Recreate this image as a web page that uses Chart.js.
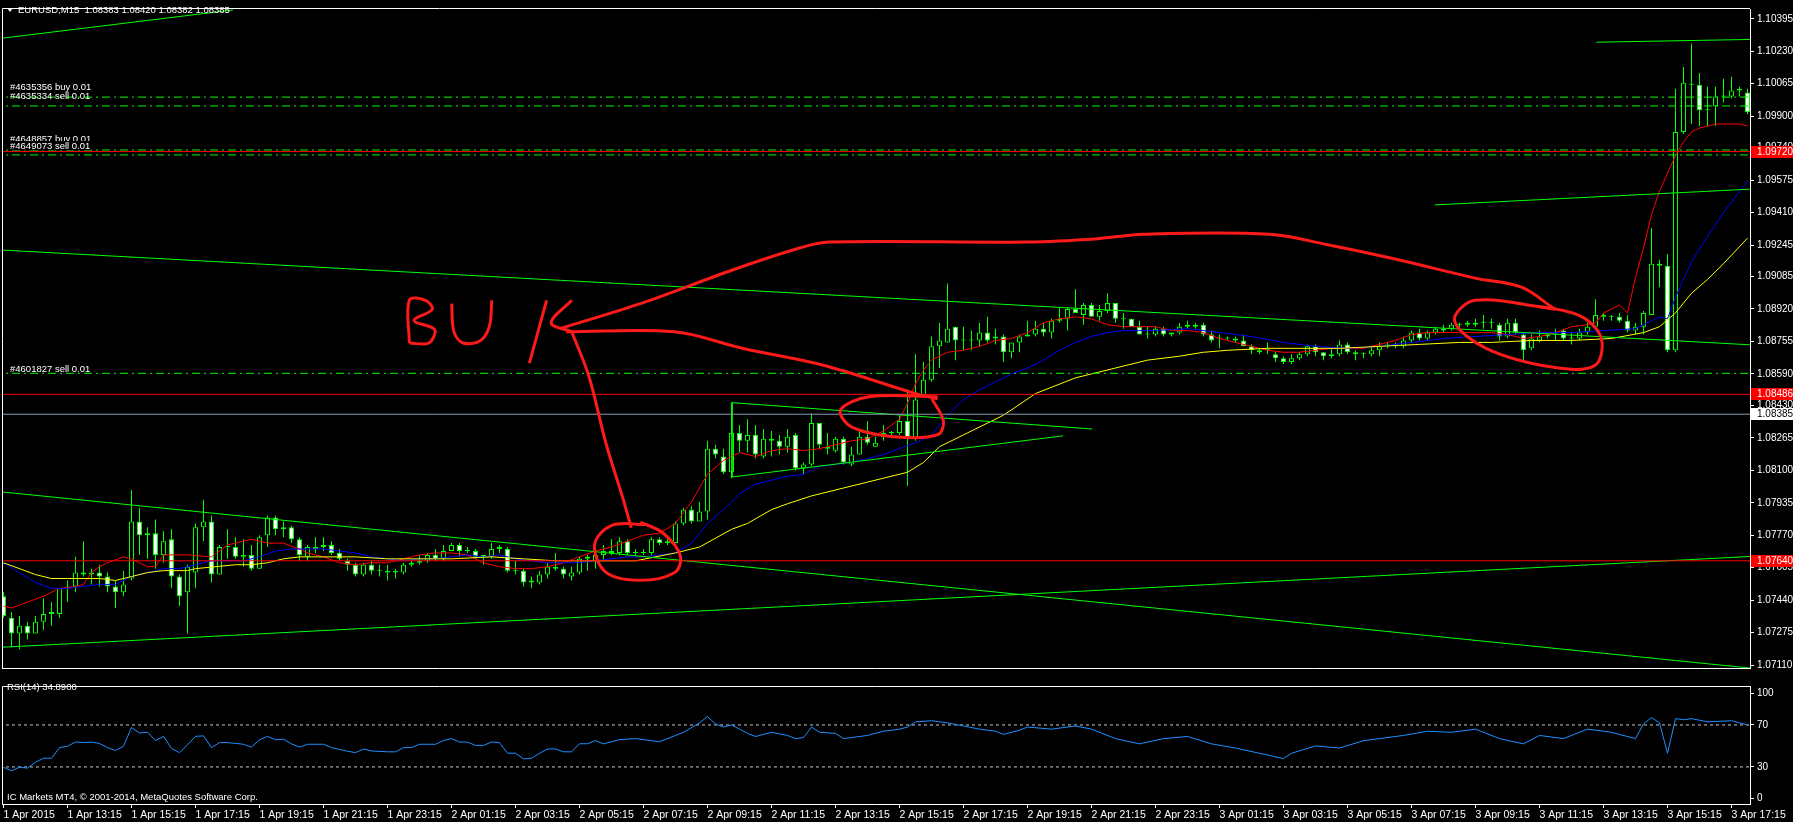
<!DOCTYPE html>
<html>
<head>
<meta charset="utf-8">
<script src="https://cdn.jsdelivr.net/npm/chart.js@4.4.1/dist/chart.umd.min.js"></script>
<style>
html, body { margin: 0; padding: 0; background: #000; }
body { width: 1793px; height: 822px; position: relative; overflow: hidden; }
canvas { position: absolute; left: 0; }
#main { top: 0; }
#rsi { top: 677px; }
</style>
</head>
<body>
<canvas id="main" width="1793" height="677" style="width:1793px;height:677px"></canvas>
<canvas id="rsi" width="1793" height="145" style="width:1793px;height:145px"></canvas>
<script>
// EURUSD M15, 1 Apr 2015 11:15 .. 3 Apr 2015 17:45 (one value per bar)
const opens = [
  1.0746,1.0735,1.0727,1.0731,1.0727,1.0733,1.0738,1.0737,1.0750,1.0751,
  1.0758,1.0757,1.0758,1.0756,1.0751,1.0748,1.0755,1.0784,1.0777,1.0778,
  1.0767,1.0775,1.0756,1.0748,1.0758,1.0781,1.0784,1.0757,1.0771,1.0771,
  1.0766,1.0767,1.0760,1.0777,1.0786,1.0780,1.0781,1.0775,1.0766,1.0770,
  1.0771,1.0772,1.0768,1.0764,1.0762,1.0757,1.0762,1.0759,1.0758,1.0759,
  1.0758,1.0762,1.0763,1.0764,1.0767,1.0765,1.0769,1.0772,1.0769,1.0769,
  1.0766,1.0766,1.0770,1.0770,1.0759,1.0759,1.0753,1.0753,1.0757,1.0761,
  1.0760,1.0756,1.0758,1.0765,1.0764,1.0767,1.0768,1.0768,1.0774,1.0768,
  1.0768,1.0768,1.0775,1.0773,1.0773,1.0783,1.0790,1.0784,1.0789,1.0821,
  1.0817,1.0809,1.0829,1.0825,1.0828,1.0817,1.0826,1.0825,1.0822,1.0828,
  1.0811,1.0813,1.0834,1.0822,1.0820,1.0826,1.0813,1.0818,1.0827,1.0822,
  1.0827,1.0829,1.0829,1.0835,1.0826,1.0848,1.0856,1.0873,1.0875,1.0883,
  1.0876,1.0876,1.0876,1.0880,1.0877,1.0878,1.0870,1.0875,1.0878,1.0879,
  1.0882,1.0880,1.0886,1.0887,1.0892,1.0889,1.0894,1.0888,1.0891,1.0895,
  1.0887,1.0887,1.0883,1.0879,1.0879,1.0882,1.0879,1.0880,1.0883,1.0884,
  1.0884,1.0879,1.0877,1.0877,1.0877,1.0876,1.0873,1.0870,1.0871,1.0869,
  1.0867,1.0865,1.0867,1.0869,1.0873,1.0870,1.0868,1.0869,1.0874,1.0870,
  1.0869,1.0869,1.0871,1.0873,1.0874,1.0873,1.0876,1.0880,1.0877,1.0880,
  1.0881,1.0882,1.0884,1.0884,1.0884,1.0885,1.0885,1.0884,1.0878,1.0885,
  1.0879,1.0872,1.0876,1.0878,1.0879,1.0881,1.0877,1.0877,1.0880,1.0883,
  1.0889,1.0888,1.0888,1.0886,1.0881,1.0883,1.0889,1.0915,1.0914,1.0871,
  1.0982,1.1006,1.1006,1.0993,1.0995,1.1000,1.1000,1.1003,1.1002
];
const highs = [
  1.0748,1.0738,1.0736,1.0733,1.0736,1.0745,1.0743,1.0750,1.0754,1.0766,
  1.0774,1.0760,1.0762,1.0758,1.0754,1.0759,1.0800,1.0791,1.0781,1.0785,
  1.0779,1.0780,1.0757,1.0762,1.0783,1.0795,1.0787,1.0772,1.0780,1.0776,
  1.0775,1.0772,1.0777,1.0787,1.0787,1.0784,1.0782,1.0776,1.0772,1.0776,
  1.0776,1.0774,1.0770,1.0765,1.0763,1.0763,1.0764,1.0762,1.0762,1.0760,
  1.0763,1.0764,1.0767,1.0768,1.0770,1.0772,1.0773,1.0773,1.0771,1.0770,
  1.0767,1.0773,1.0772,1.0771,1.0764,1.0760,1.0756,1.0759,1.0763,1.0768,
  1.0761,1.0761,1.0766,1.0767,1.0768,1.0772,1.0775,1.0776,1.0775,1.0770,
  1.0770,1.0776,1.0776,1.0775,1.0784,1.0791,1.0792,1.0794,1.0825,1.0823,
  1.0821,1.0844,1.0833,1.0836,1.0833,1.0831,1.0830,1.0828,1.0831,1.0829,
  1.0814,1.0839,1.0834,1.0829,1.0827,1.0827,1.0822,1.0831,1.0835,1.0827,
  1.0833,1.0830,1.0838,1.0851,1.0869,1.0865,1.0878,1.0885,1.0905,1.0883,
  1.0883,1.0881,1.0885,1.0888,1.0882,1.0879,1.0875,1.0879,1.0886,1.0886,
  1.0885,1.0887,1.0893,1.0893,1.0902,1.0895,1.0895,1.0894,1.0900,1.0895,
  1.0890,1.0887,1.0886,1.0883,1.0883,1.0883,1.0880,1.0885,1.0886,1.0885,
  1.0885,1.0881,1.0879,1.0878,1.0878,1.0879,1.0874,1.0872,1.0875,1.0870,
  1.0868,1.0869,1.0870,1.0874,1.0874,1.0870,1.0872,1.0876,1.0875,1.0871,
  1.0870,1.0873,1.0875,1.0875,1.0875,1.0878,1.0881,1.0882,1.0881,1.0883,
  1.0884,1.0885,1.0885,1.0886,1.0887,1.0889,1.0887,1.0885,1.0887,1.0887,
  1.0880,1.0879,1.0881,1.0880,1.0882,1.0882,1.0880,1.0882,1.0885,1.0897,
  1.0890,1.0889,1.0890,1.0889,1.0885,1.0891,1.0933,1.0917,1.0920,1.1004,
  1.1015,1.1027,1.1012,1.1005,1.1005,1.1009,1.1010,1.1005,1.1004
];
const lows = [
  1.0735,1.0720,1.0719,1.0724,1.0727,1.0729,1.0731,1.0735,1.0743,1.0748,
  1.0756,1.0752,1.0751,1.0748,1.0740,1.0746,1.0754,1.0767,1.0765,1.0760,
  1.0763,1.0750,1.0741,1.0727,1.0750,1.0774,1.0753,1.0757,1.0765,1.0765,
  1.0761,1.0759,1.0760,1.0771,1.0777,1.0776,1.0773,1.0764,1.0764,1.0768,
  1.0769,1.0767,1.0764,1.0759,1.0756,1.0756,1.0757,1.0756,1.0754,1.0755,
  1.0757,1.0761,1.0762,1.0763,1.0764,1.0764,1.0769,1.0766,1.0768,1.0765,
  1.0762,1.0765,1.0768,1.0758,1.0757,1.0751,1.0750,1.0752,1.0755,1.0759,
  1.0755,1.0754,1.0757,1.0759,1.0760,1.0764,1.0767,1.0767,1.0767,1.0767,
  1.0767,1.0767,1.0772,1.0772,1.0773,1.0782,1.0783,1.0784,1.0785,1.0816,
  1.0808,1.0806,1.0819,1.0819,1.0816,1.0816,1.0817,1.0818,1.0819,1.0810,
  1.0808,1.0812,1.0821,1.0818,1.0819,1.0813,1.0812,1.0818,1.0823,1.0822,
  1.0825,1.0828,1.0828,1.0802,1.0825,1.0847,1.0855,1.0862,1.0875,1.0866,
  1.0871,1.0871,1.0873,1.0875,1.0874,1.0865,1.0867,1.0870,1.0878,1.0878,
  1.0878,1.0877,1.0885,1.0881,1.0890,1.0884,1.0888,1.0886,1.0890,1.0885,
  1.0882,1.0883,1.0879,1.0877,1.0878,1.0878,1.0878,1.0879,1.0882,1.0882,
  1.0878,1.0875,1.0872,1.0876,1.0875,1.0873,1.0869,1.0869,1.0869,1.0865,
  1.0864,1.0864,1.0866,1.0868,1.0868,1.0866,1.0867,1.0868,1.0869,1.0866,
  1.0867,1.0868,1.0868,1.0872,1.0872,1.0872,1.0875,1.0876,1.0876,1.0879,
  1.0880,1.0881,1.0882,1.0883,1.0883,1.0882,1.0882,1.0876,1.0877,1.0879,
  1.0866,1.0871,1.0875,1.0877,1.0876,1.0876,1.0874,1.0876,1.0879,1.0882,
  1.0886,1.0886,1.0885,1.0880,1.0879,1.0879,1.0889,1.0903,1.0870,1.0870,
  1.0981,1.0986,1.0985,1.0985,1.0985,1.0997,1.0999,1.1000,1.0991
];
const closes = [
  1.0736,1.0727,1.0731,1.0727,1.0733,1.0737,1.0737,1.0750,1.0751,1.0758,
  1.0757,1.0758,1.0756,1.0751,1.0748,1.0752,1.0784,1.0777,1.0778,1.0767,
  1.0774,1.0756,1.0746,1.0761,1.0781,1.0784,1.0757,1.0771,1.0771,1.0766,
  1.0767,1.0760,1.0776,1.0786,1.0780,1.0781,1.0775,1.0767,1.0771,1.0771,
  1.0772,1.0768,1.0765,1.0762,1.0757,1.0762,1.0759,1.0759,1.0759,1.0758,
  1.0762,1.0763,1.0764,1.0767,1.0765,1.0769,1.0772,1.0769,1.0769,1.0766,
  1.0767,1.0770,1.0771,1.0759,1.0759,1.0753,1.0754,1.0757,1.0761,1.0760,
  1.0757,1.0758,1.0765,1.0766,1.0767,1.0769,1.0769,1.0774,1.0768,1.0768,
  1.0768,1.0775,1.0773,1.0774,1.0783,1.0790,1.0784,1.0789,1.0821,1.0818,
  1.0809,1.0829,1.0825,1.0828,1.0818,1.0826,1.0825,1.0822,1.0827,1.0811,
  1.0813,1.0834,1.0823,1.0821,1.0826,1.0814,1.0818,1.0827,1.0824,1.0824,
  1.0829,1.0829,1.0835,1.0826,1.0846,1.0856,1.0873,1.0876,1.0882,1.0876,
  1.0876,1.0876,1.0880,1.0876,1.0878,1.0870,1.0875,1.0878,1.0879,1.0882,
  1.0880,1.0886,1.0887,1.0892,1.0890,1.0894,1.0888,1.0891,1.0895,1.0887,
  1.0887,1.0883,1.0879,1.0879,1.0882,1.0879,1.0880,1.0883,1.0884,1.0883,
  1.0879,1.0876,1.0877,1.0877,1.0876,1.0873,1.0871,1.0871,1.0871,1.0867,
  1.0865,1.0867,1.0869,1.0873,1.0870,1.0868,1.0869,1.0874,1.0870,1.0869,
  1.0869,1.0871,1.0873,1.0874,1.0873,1.0876,1.0880,1.0877,1.0880,1.0882,
  1.0882,1.0884,1.0884,1.0885,1.0885,1.0885,1.0885,1.0878,1.0885,1.0880,
  1.0871,1.0877,1.0878,1.0879,1.0879,1.0877,1.0877,1.0880,1.0883,1.0889,
  1.0888,1.0888,1.0886,1.0881,1.0883,1.0890,1.0915,1.0914,1.0871,1.0982,
  1.1007,1.1006,1.0993,1.0993,1.1000,1.1000,1.1003,1.1004,1.0992
];

// time axis: one label every 8 bars (2 hours)
const timeLabels = [
  "1 Apr 2015","1 Apr 13:15","1 Apr 15:15","1 Apr 17:15","1 Apr 19:15","1 Apr 21:15","1 Apr 23:15",
  "2 Apr 01:15","2 Apr 03:15","2 Apr 05:15","2 Apr 07:15","2 Apr 09:15","2 Apr 11:15","2 Apr 13:15",
  "2 Apr 15:15","2 Apr 17:15","2 Apr 19:15","2 Apr 21:15","2 Apr 23:15","3 Apr 01:15","3 Apr 03:15",
  "3 Apr 05:15","3 Apr 07:15","3 Apr 09:15","3 Apr 11:15","3 Apr 13:15","3 Apr 15:15","3 Apr 17:15"
];
const priceTicks = [
  1.10395,1.10230,1.10065,1.09900,1.09740,1.09575,1.09410,1.09245,1.09085,1.08920,1.08755,
  1.08590,1.08430,1.08265,1.08100,1.07935,1.07770,1.07605,1.07440,1.07275,1.07110
];
const rsiTicks = [0, 30, 70, 100];
const rsiLevels = [30, 70];

// moving averages [bar, value]
const redMA = [
  [0,1.0741],[1,1.0740],[3,1.0743],[5,1.0746],[7,1.0750],[9,1.0751],[10,1.0752],[11,1.0758],[12,1.0761],
  [13,1.0763],[15,1.0766],[16,1.0765],[17,1.0763],[18,1.0761],[19,1.0761],[20,1.0767],[23,1.0767],
  [26,1.0766],[27,1.0769],[28,1.0772],[30,1.0774],[31,1.0775],[33,1.0773],[35,1.0773],[37,1.0770],
  [38,1.0768],[40,1.0766],[42,1.0763],[44,1.0762],[46,1.0763],[48,1.0763],[50,1.0765],[52,1.0767],
  [54,1.0768],[56,1.0768],[58,1.0767],[60,1.0763],[62,1.0761],[64,1.0760],[66,1.0760],[68,1.0761],
  [70,1.0763],[72,1.0766],[74,1.0769],[76,1.0771],[78,1.0774],[80,1.0777],[82,1.0778],[84,1.0783],
  [86,1.0794],[88,1.0808],[90,1.0815],[92,1.0819],[94,1.0817],[96,1.0820],[98,1.0821],[100,1.0820],
  [102,1.0821],[104,1.0823],[106,1.0825],[108,1.0826],[110,1.0830],[112,1.0836],[113,1.0844],
  [114,1.0854],[115,1.0861],[116,1.0866],[118,1.0870],[120,1.0871],[122,1.0873],[124,1.0876],
  [126,1.0877],[128,1.0880],[130,1.0885],[132,1.0887],[134,1.0888],[136,1.0887],[138,1.0884],
  [140,1.0883],[142,1.0883],[144,1.0883],[146,1.0881],[148,1.0881],[150,1.0880],[152,1.0877],
  [154,1.0875],[156,1.0873],[158,1.0871],[160,1.0870],[162,1.0870],[164,1.0871],[166,1.0872],
  [168,1.0872],[170,1.0872],[172,1.0874],[174,1.0876],[176,1.0879],[178,1.0880],[180,1.0880],
  [182,1.0880],[184,1.0880],[186,1.0880],[188,1.0879],[190,1.0877],[192,1.0878],[194,1.0880],
  [196,1.0883],[198,1.0884],[199,1.0885],[200,1.0890],[202,1.0894],[203,1.0890],[204,1.0908],
  [205,1.0923],[206,1.0940],[207,1.0952],[208,1.0961],[209,1.0970],[210,1.0977],[211,1.0982],
  [212,1.0984],[214,1.0986],[216,1.0986],[217,1.0986],[218,1.0985]
];
const blueMA = [
  [0,1.0763],[2,1.0758],[4,1.0753],[6,1.0750],[8,1.0750],[10,1.0751],[12,1.0752],[14,1.0752],
  [16,1.0756],[18,1.0758],[20,1.0760],[22,1.0760],[24,1.0762],[26,1.0764],[28,1.0764],[30,1.0764],
  [32,1.0766],[34,1.0769],[36,1.0770],[38,1.0770],[40,1.0770],[42,1.0769],[44,1.0768],[46,1.0766],
  [48,1.0765],[50,1.0764],[52,1.0765],[54,1.0765],[56,1.0766],[58,1.0767],[60,1.0766],[62,1.0767],
  [64,1.0765],[66,1.0764],[68,1.0763],[70,1.0763],[72,1.0763],[74,1.0764],[76,1.0765],[78,1.0766],
  [80,1.0766],[82,1.0767],[84,1.0768],[86,1.0773],[88,1.0783],[90,1.0790],[92,1.0798],[94,1.0803],
  [96,1.0805],[98,1.0807],[100,1.0808],[102,1.0812],[104,1.0813],[106,1.0814],[108,1.0816],
  [110,1.0818],[112,1.0821],[114,1.0824],[116,1.0828],[118,1.0838],[120,1.0846],[122,1.0851],
  [124,1.0855],[126,1.0859],[128,1.0862],[130,1.0866],[132,1.0871],[134,1.0875],[136,1.0878],
  [138,1.0880],[140,1.0881],[144,1.0881],[148,1.0882],[152,1.0880],[156,1.0878],[160,1.0875],
  [164,1.0873],[168,1.0872],[172,1.0873],[176,1.0875],[180,1.0877],[184,1.0878],[188,1.0879],
  [192,1.0880],[196,1.0880],[200,1.0881],[204,1.0882],[206,1.0886],[207,1.0888],[208,1.0887],
  [209,1.0898],[211,1.0916],[213,1.0929],[215,1.0941],[218,1.0957]
];
const yellowMA = [
  [0,1.0763],[4,1.0757],[6,1.0755],[8,1.0755],[12,1.0755],[14,1.0754],[16,1.0756],[18,1.0758],
  [20,1.0759],[23,1.0759],[24,1.0760],[29,1.0762],[31,1.0762],[33,1.0763],[35,1.0765],[37,1.0766],
  [40,1.0766],[44,1.0766],[48,1.0765],[52,1.0765],[56,1.0765],[61,1.0766],[65,1.0765],[69,1.0764],
  [73,1.0764],[79,1.0764],[84,1.0768],[87,1.0771],[91,1.0780],[93,1.0783],[96,1.0790],[98,1.0793],
  [101,1.0797],[105,1.0801],[110,1.0806],[113,1.0809],[115,1.0814],[117,1.0822],[120,1.0828],
  [125,1.0838],[129,1.0849],[134,1.0857],[139,1.0862],[143,1.0866],[147,1.0868],[150,1.0870],
  [153,1.0871],[158,1.0872],[167,1.0872],[172,1.0873],[177,1.0874],[182,1.0875],[186,1.0875],
  [191,1.0876],[196,1.0876],[201,1.0877],[205,1.0880],[207,1.0883],[209,1.0890],[211,1.0900],
  [213,1.0907],[215,1.0915],[218,1.0928]
];

// RSI(14) [bar, value]
const rsiValues = [
  [0,29.7],[1,26.3],[2,29.7],[3,28.9],[4,34.5],[5,38.3],[6,38.3],[7,48.4],[8,49.7],[9,53.7],
  [10,53.2],[11,53.7],[12,52.4],[13,48.4],[14,45.7],[15,49.7],[16,67.6],[17,62.3],[18,63.1],
  [19,55.1],[20,59.1],[21,47.6],[22,43.6],[23,51.1],[24,59.1],[25,59.6],[26,48.4],[27,53.2],
  [28,53.2],[29,52.4],[30,51.6],[31,48.9],[32,55.9],[33,59.1],[34,55.9],[35,56.4],[36,52.0],
  [37,48.9],[38,51.6],[40,51.6],[41,48.4],[43,45.0],[44,43.6],[45,47.1],[46,45.2],[48,44.4],
  [49,44.4],[50,48.4],[51,48.4],[52,51.6],[54,51.6],[55,55.1],[56,57.0],[57,53.7],[58,53.7],
  [59,50.5],[60,50.5],[61,53.7],[62,53.2],[63,43.1],[64,43.1],[65,37.7],[66,38.3],[67,43.0],
  [68,47.1],[69,47.1],[70,44.4],[71,44.4],[72,52.1],[73,52.1],[74,55.1],[75,52],[77,56],[79,57],
  [81,55],[82,54],[84,60],[85,63],[87,72],[88,78],[89,71],[90,68],[91,70],[92,66],[93,62],[94,59],
  [96,63],[98,60],[99,57],[100,58],[101,68],[102,63],[104,62],[105,57],[106,58],[108,60],[110,64],
  [112,66],[113,68],[114,73],[116,74],[118,72],[120,69],[122,66],[124,64],[125,61],[127,65],[128,68],
  [131,66],[134,69],[136,66],[139,57],[142,52],[145,57],[148,59],[151,52],[154,48],[157,43],[160,38],
  [161,43],[164,50],[167,48],[170,55],[172,57],[175,60],[178,64],[181,63],[184,66],[187,57],[190,52],
  [192,60],[195,57],[198,66],[201,63],[204,57],[205,71],[206,77],[207,72],[208,43],[209,76],[210,75],
  [211,76],[213,73],[216,74],[218,70]
];

// chart objects: trend lines [[bar, price], [bar, price]]
const trendLines = [
  [[-0.44,1.10295],[28.69,1.10440]],
  [[-0.44,1.09220],[218.3,1.08738]],
  [[-0.44,1.07991],[218.3,1.07095]],
  [[-0.44,1.07200],[218.3,1.07662]],
  [[178.9,1.09449],[218.3,1.09529]],
  [[199.1,1.10276],[218.3,1.10290]],
  [[91.06,1.08444],[136.06,1.08310]],
  [[91.06,1.08066],[132.44,1.08275]],
  [[91.06,1.08444],[91.06,1.08066]]
];
// order levels
const orderPrices = [1.09997, 1.09952, 1.09728, 1.09703, 1.08593];
const orderTexts = ["#4635356 buy 0.01", "#4635334 sell 0.01", "#4648857 buy 0.01", "#4649073 sell 0.01", "#4601827 sell 0.01"];
const redLevels = [1.09720, 1.08486, 1.07640];
const bidPrice = 1.08385;

// hand drawn marks [bar, price]
const drawPaths = [
  [[50.73,1.08747],[50.73,1.08964],[52.74,1.08964],[53.59,1.08918],[51.31,1.08861],[53.88,1.08816],[53.16,1.08747],[50.73,1.08747]],
  [[56.02,1.08947],[56.31,1.08804],[57.45,1.08747],[59.6,1.08759],[60.74,1.08833],[61.03,1.08964]],
  [[67.89,1.08964],[65.74,1.08645]],
  [[71.03,1.08964],[68.46,1.08850],[71.03,1.08804]],
  [[69.6,1.08821],[79.61,1.08947],[91.04,1.09117],[99.62,1.09231],[103.19,1.09260],[128.21,1.09260],[136.79,1.09277],[142.5,1.09300],[158.23,1.09300],[165.37,1.09248],[173.95,1.09174],[183.95,1.09077],[189.67,1.09032],[193.96,1.08918]],
  [[193.96,1.08918],[183.95,1.08964],[181.38,1.08861],[185.38,1.08719],[193.96,1.08622],[198.96,1.08634],[199.68,1.08776],[196.82,1.08890],[189.67,1.08947]],
  [[70.32,1.08804],[83.9,1.08804],[92.47,1.08719],[102.48,1.08634],[113.91,1.08491],[116.77,1.08463]],
  [[116.77,1.08474],[108.2,1.08474],[104.62,1.08406],[106.05,1.08320],[111.77,1.08269],[116.77,1.08281],[117.49,1.08349],[116.06,1.08463]],
  [[71.03,1.08804],[73.18,1.08577],[75.32,1.08235],[77.47,1.07951],[78.47,1.07808]],
  [[80.32,1.07825],[76.04,1.07820],[73.89,1.07723],[75.32,1.07581],[79.61,1.07541],[83.9,1.07581],[84.61,1.07666],[82.47,1.07780],[79.61,1.07837]]
];

const FONT = "'Liberation Sans', Arial, sans-serif";
Chart.defaults.font.family = FONT;
Chart.defaults.font.size = 10;
Chart.defaults.color = '#ffffff';

const xMin = -0.1875;
const xMax = 218.3125;
const GREEN = '#00ff00';

function lineSet(points, color, width, dash, order, tension) {
  return {
    type: 'line',
    data: points.map(p => ({ x: p[0], y: p[1] })),
    borderColor: color,
    borderWidth: width,
    borderDash: dash || [],
    pointRadius: 0,
    fill: false,
    tension: tension || 0,
    order: order
  };
}

const idx = opens.map((o, i) => i);
const datasets = [];
datasets.push({
  type: 'bar',
  data: idx.map(i => ({ x: i, y: [lows[i], highs[i]] })),
  backgroundColor: GREEN,
  barThickness: 1,
  minBarLength: 1,
  grouped: false,
  inflateAmount: 0,
  order: 6
});
datasets.push({
  type: 'bar',
  data: idx.map(i => ({ x: i, y: [Math.min(opens[i], closes[i]), Math.max(opens[i], closes[i])] })),
  backgroundColor: idx.map(i => closes[i] < opens[i] ? '#ffffff' : '#000000'),
  borderColor: GREEN,
  borderWidth: 1,
  borderSkipped: false,
  barThickness: 5,
  minBarLength: 1,
  grouped: false,
  inflateAmount: 0,
  order: 5
});
datasets.push(lineSet(yellowMA, '#ffff00', 1, null, 4));
datasets.push(lineSet(blueMA, '#0000ff', 1, null, 4));
datasets.push(lineSet(redMA, '#ff0000', 1, null, 4));
trendLines.forEach(t => datasets.push(lineSet(t, GREEN, 1, null, 3)));
orderPrices.forEach(p => datasets.push(lineSet([[xMin - 1, p], [xMax + 1, p]], GREEN, 1, [8, 4, 2, 4], 3)));
redLevels.forEach(p => datasets.push(lineSet([[xMin - 1, p], [xMax + 1, p]], '#ff0000', 1, null, 2)));
datasets.push(lineSet([[xMin - 1, bidPrice], [xMax + 1, bidPrice]], '#8a9bb0', 1, null, 2));
drawPaths.forEach(d => datasets.push(lineSet(d, '#ff1a1a', 3, null, 0, 0.35)));

const mainDecor = {
  id: 'mainDecor',
  afterDraw(chart) {
    const ctx = chart.ctx;
    const a = chart.chartArea;
    const ys = chart.scales.y;
    ctx.save();
    ctx.strokeStyle = '#ffffff';
    ctx.lineWidth = 1;
    ctx.beginPath();
    ctx.moveTo(a.left + 0.5, a.bottom + 0.5);
    ctx.lineTo(a.left + 0.5, a.top - 0.5);
    ctx.lineTo(a.right, a.top - 0.5);
    ctx.moveTo(a.left, a.bottom + 0.5);
    ctx.lineTo(a.right + 1, a.bottom + 0.5);
    ctx.stroke();

    ctx.font = '9.5px ' + FONT;
    ctx.textBaseline = 'middle';
    ctx.textAlign = 'left';
    // header
    ctx.fillStyle = '#ffffff';
    ctx.beginPath();
    ctx.moveTo(7, 8); ctx.lineTo(13, 8); ctx.lineTo(10, 12); ctx.closePath();
    ctx.fill();
    ctx.fillText('EURUSD,M15  1.08383 1.08420 1.08382 1.08385', 18, 10);
    // order labels
    const labelY = [87, 96, 139, 146, 369];
    orderTexts.forEach((t, k) => {
      if (k === 3) {
        ctx.fillStyle = '#000000';
        ctx.fillRect(9, 141, 82, 9);
      }
      ctx.fillStyle = '#ffffff';
      ctx.fillText(t, 10, labelY[k]);
    });
    // price boxes on the axis
    ctx.font = '10px ' + FONT;
    const marks = redLevels.map(v => ({ v: v, bg: '#ff0000', fg: '#ffffff' }));
    marks.push({ v: bidPrice, bg: '#ffffff', fg: '#000000' });
    marks.forEach(m => {
      const py = Math.round(ys.getPixelForValue(m.v));
      ctx.fillStyle = m.bg;
      ctx.fillRect(a.right + 1, py - 6, chart.width - a.right - 1, 12);
      ctx.fillStyle = m.fg;
      ctx.fillText(m.v.toFixed(5), a.right + 7, py);
    });
    ctx.restore();
  }
};

new Chart(document.getElementById('main'), {
  type: 'bar',
  data: { datasets: datasets },
  options: {
    responsive: false,
    animation: false,
    events: [],
    layout: { padding: { left: 2, top: 2, right: 0, bottom: 2 } },
    plugins: { legend: { display: false }, tooltip: { enabled: false } },
    scales: {
      x: {
        type: 'linear',
        min: xMin,
        max: xMax,
        offset: false,
        display: false,
        grid: { offset: false }
      },
      y: {
        position: 'right',
        min: 1.070951,
        max: 1.104448,
        beginAtZero: false,
        afterFit(scale) { scale.width = 43; },
        afterBuildTicks(scale) { scale.ticks = priceTicks.map(v => ({ value: v })); },
        ticks: {
          color: '#ffffff',
          padding: 3,
          autoSkip: false,
          callback: v => v.toFixed(5)
        },
        grid: { drawOnChartArea: false, drawTicks: true, tickLength: 4, color: '#ffffff' },
        border: { display: true, color: '#ffffff' }
      }
    }
  },
  plugins: [mainDecor]
});

const rsiDecor = {
  id: 'rsiDecor',
  afterDraw(chart) {
    const ctx = chart.ctx;
    const a = chart.chartArea;
    ctx.save();
    ctx.strokeStyle = '#ffffff';
    ctx.lineWidth = 1;
    ctx.beginPath();
    ctx.moveTo(a.left + 0.5, a.bottom);
    ctx.lineTo(a.left + 0.5, a.top + 0.5);
    ctx.lineTo(a.right, a.top + 0.5);
    ctx.stroke();
    ctx.font = '9.5px ' + FONT;
    ctx.textBaseline = 'middle';
    ctx.textAlign = 'left';
    ctx.fillStyle = '#ffffff';
    ctx.fillText('RSI(14) 34.8900', 7, 10);
    ctx.fillText('IC Markets MT4, \u00a9 2001-2014, MetaQuotes Software Corp.', 7, 120);
    ctx.restore();
  }
};

const rsiSets = [{
  data: rsiValues.map(p => ({ x: p[0], y: p[1] })),
  borderColor: '#1e90ff',
  borderWidth: 1,
  pointRadius: 0,
  fill: false,
  order: 0
}];
rsiLevels.forEach(l => rsiSets.push({
  data: [{ x: xMin - 1, y: l }, { x: xMax + 1, y: l }],
  borderColor: '#c8c8c8',
  borderWidth: 1,
  borderDash: [3, 3],
  pointRadius: 0,
  fill: false,
  order: 1
}));

new Chart(document.getElementById('rsi'), {
  type: 'line',
  data: { datasets: rsiSets },
  options: {
    responsive: false,
    animation: false,
    events: [],
    layout: { padding: { left: 2, top: 0, right: 0, bottom: 0 } },
    plugins: { legend: { display: false }, tooltip: { enabled: false } },
    scales: {
      x: {
        type: 'linear',
        min: xMin,
        max: xMax,
        afterFit(scale) { scale.height = 18; },
        afterBuildTicks(scale) { scale.ticks = timeLabels.map((t, k) => ({ value: k * 8 })); },
        ticks: {
          color: '#ffffff',
          align: 'start',
          padding: 1,
          autoSkip: false,
          maxRotation: 0,
          minRotation: 0,
          font: { size: 10.5 },
          callback: v => timeLabels[Math.round(v / 8)]
        },
        grid: { drawOnChartArea: false, drawTicks: true, tickLength: 4, color: '#ffffff' },
        border: { display: true, color: '#ffffff' }
      },
      y: {
        position: 'right',
        min: -5.3,
        max: 107.1,
        afterFit(scale) { scale.width = 43; },
        afterBuildTicks(scale) { scale.ticks = rsiTicks.map(v => ({ value: v })); },
        ticks: { color: '#ffffff', padding: 3, autoSkip: false },
        grid: { drawOnChartArea: false, drawTicks: true, tickLength: 4, color: '#ffffff' },
        border: { display: true, color: '#ffffff' }
      }
    }
  },
  plugins: [rsiDecor]
});
</script>
</body>
</html>
